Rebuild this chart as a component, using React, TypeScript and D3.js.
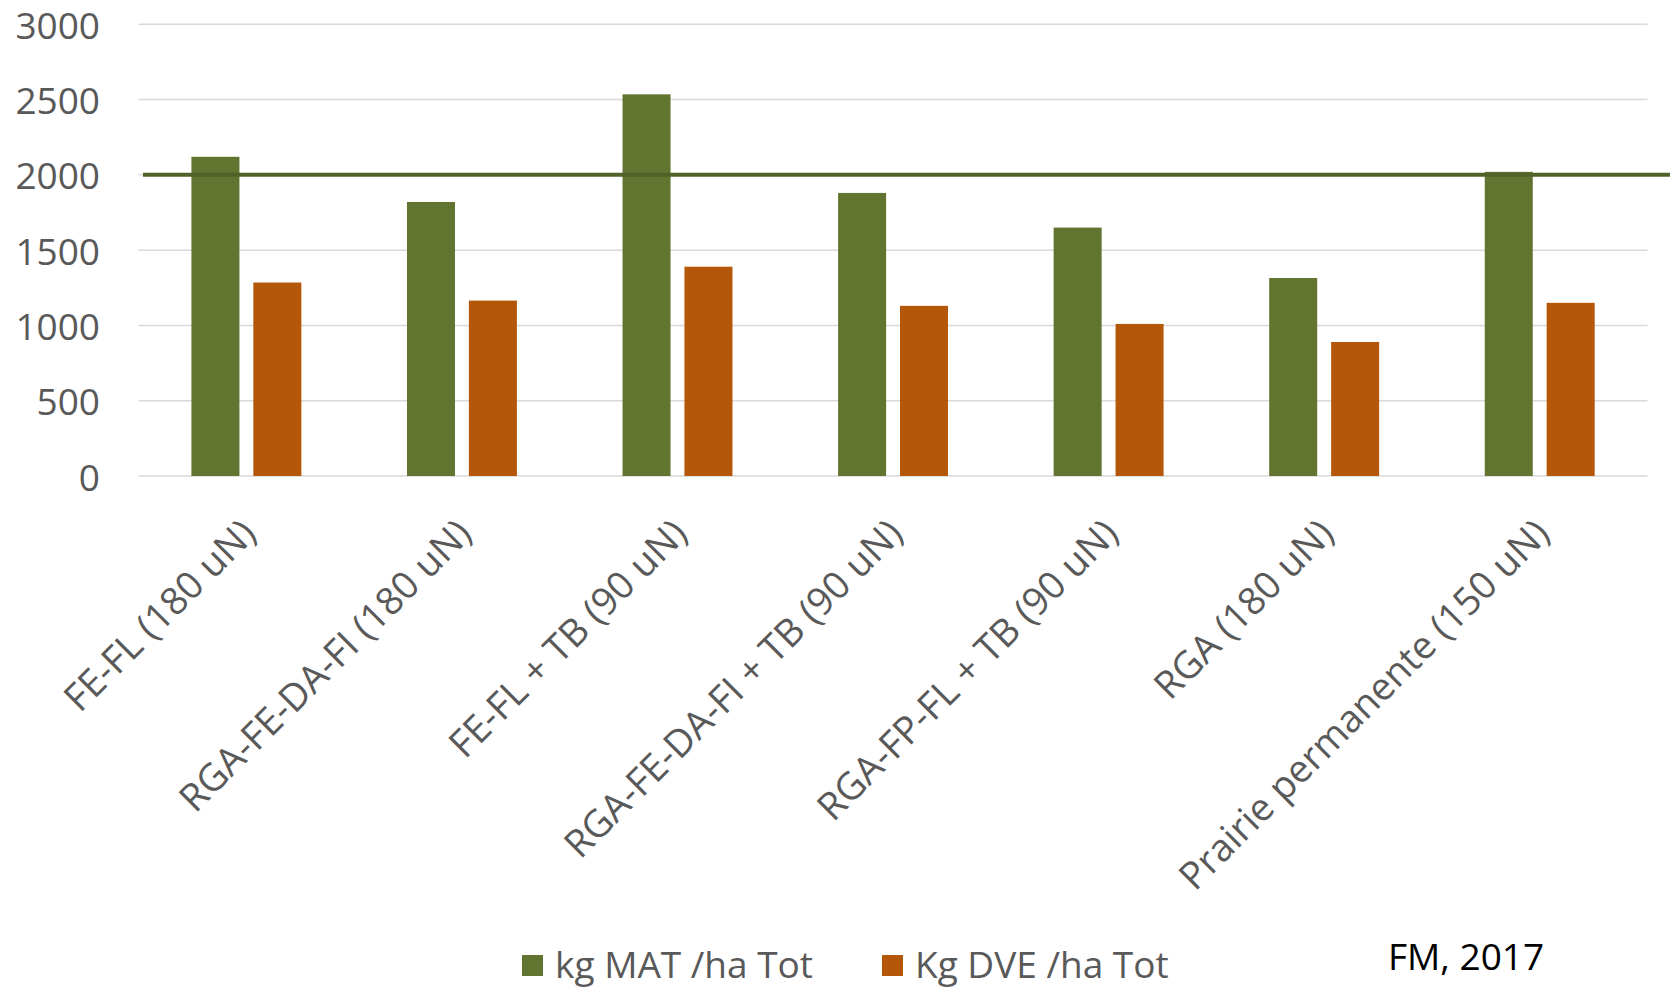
import React from "react";
import * as d3 from "d3";

const categories = [
  "FE-FL (180 uN)",
  "RGA-FE-DA-FI (180 uN)",
  "FE-FL + TB (90 uN)",
  "RGA-FE-DA-FI + TB (90 uN)",
  "RGA-FP-FL + TB (90 uN)",
  "RGA (180 uN)",
  "Prairie permanente (150 uN)",
];
const matValues = [2120, 1820, 2535, 1880, 1650, 1315, 2020];
const dveValues = [1285, 1165, 1390, 1130, 1010, 890, 1150];
const seriesNames = ["kg MAT /ha Tot", "Kg DVE /ha Tot"];
const seriesColors = ["#627530", "#b55708"];
const yTicks = [0, 500, 1000, 1500, 2000, 2500, 3000];
const referenceValue = 2000;
const sourceNote = "FM, 2017";

const W = 1672;
const H = 987;
const plotLeft = 138.6;
const plotRight = 1647.5;
const plotTop = 24.3;
const plotBottom = 476;
const FONT = "'Open Sans', sans-serif";

export default function App() {
  const x0 = d3
    .scaleBand<string>()
    .domain(categories)
    .range([plotLeft, plotRight])
    .paddingInner(0.49)
    .paddingOuter(0.245);
  const x1 = d3
    .scaleBand<number>()
    .domain([0, 1])
    .range([0, x0.bandwidth()])
    .paddingInner(0.2245);
  const y = d3.scaleLinear().domain([0, 3000]).range([plotBottom, plotTop]);

  const series = [matValues, dveValues];

  return (
    <svg
      width={W}
      height={H}
      style={{ position: "absolute", left: 0, top: 0, background: "#fff" }}
      fontFamily={FONT}
    >
      {/* gridlines */}
      {yTicks.map((t) => (
        <line
          key={"g" + t}
          x1={plotLeft}
          x2={plotRight}
          y1={y(t)}
          y2={y(t)}
          stroke="#d9d9d9"
          strokeWidth={1.5}
        />
      ))}
      {/* y tick labels */}
      {yTicks.map((t) => (
        <text
          key={"t" + t}
          x={100}
          y={y(t)}
          textAnchor="end"
          dominantBaseline="central"
          fontSize={37}
          fill="#595959"
        >
          {t}
        </text>
      ))}
      {/* bars */}
      {categories.map((c, i) => (
        <g key={c} transform={`translate(${x0(c)},0)`}>
          {series.map((vals, s) => (
            <rect
              key={s}
              x={x1(s)}
              y={y(vals[i])}
              width={x1.bandwidth()}
              height={y(0) - y(vals[i])}
              fill={seriesColors[s]}
            />
          ))}
        </g>
      ))}
      {/* reference line */}
      <line
        x1={143}
        x2={1670}
        y1={y(referenceValue)}
        y2={y(referenceValue)}
        stroke="#4f6228"
        strokeWidth={4}
      />
      {/* category labels */}
      {categories.map((c) => {
        const cx = (x0(c) as number) + x0.bandwidth() / 2;
        return (
          <text
            key={"l" + c}
            transform={`translate(${cx + 1},${525}) rotate(-45)`}
            textAnchor="end"
            dominantBaseline="central"
            fontSize={38}
            fill="#595959"
          >
            {c}
          </text>
        );
      })}
      {/* legend */}
      {seriesNames.map((n, i) => {
        const lx = i === 0 ? 522 : 882;
        return (
          <g key={n}>
            <rect x={lx} y={955} width={21} height={21} fill={seriesColors[i]} />
            <text
              x={lx + 33}
              y={963}
              dominantBaseline="central"
              fontSize={37}
              fill="#595959"
            >
              {n}
            </text>
          </g>
        );
      })}
      <text
        x={1388}
        y={955}
        dominantBaseline="central"
        fontSize={37}
        fill="#000"
      >
        {sourceNote}
      </text>
    </svg>
  );
}
